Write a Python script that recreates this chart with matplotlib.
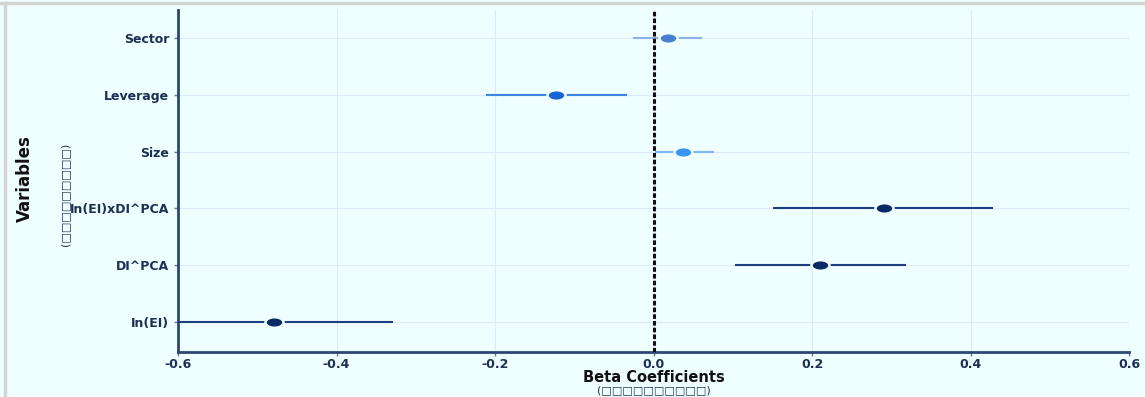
import matplotlib
matplotlib.use("Agg")
import matplotlib.pyplot as plt
import numpy as np
from matplotlib.path import Path
from matplotlib.lines import Line2D

# Degiskenler ve katsayilar
variables = ["ln(EI)", "DI^PCA", "ln(EI)xDI^PCA", "Size", "Leverage", "Sector"]
labels = ["In(EI)", "DI^PCA", "In(EI)xDI^PCA", "Size", "Leverage", "Sector"]
beta = [-0.479, 0.210, 0.291, 0.037, -0.123, 0.018]
ci_low = [-0.600, 0.103, 0.151, 0.002, -0.211, -0.026]
ci_high = [-0.329, 0.318, 0.428, 0.076, -0.034, 0.061]
point_colors = ["#0a2a66", "#0a2a66", "#0a2a66", "#3b93f5", "#1565d8", "#4a7fcf"]
line_colors = ["#1b3f80", "#1b3f80", "#1b3f80", "#7ab6f7", "#3d85e6", "#8fb2e6"]
x_ticks = [-0.6, -0.4, -0.2, 0.0, 0.2, 0.4, 0.6]

bg = "#effefe"
navy = "#1c2f55"

# Yatay olarak genisletilmis elips marker
circ = Path.unit_circle()
ellipse = Path(circ.vertices * np.array([1.7, 1.0]), circ.codes)

fig = plt.figure(figsize=(11.45, 3.97), dpi=100, facecolor=bg)
ax = fig.add_axes([0.1555, 0.1134, 0.8306, 0.8614], facecolor=bg)

y = np.arange(len(variables))
for i in range(len(variables)):
    ax.plot([ci_low[i], ci_high[i]], [y[i], y[i]], color=line_colors[i], lw=1.5,
            solid_capstyle="butt", zorder=3)
    ax.plot(beta[i], y[i], marker=ellipse, ms=13, color=point_colors[i],
            mec=bg, mew=1.8, zorder=4)

ax.axvline(0, color="#111111", lw=2.2, ls=(0, (1.5, 0.7)), zorder=5)

ax.set_xlim(-0.6, 0.6)
ax.set_ylim(-0.53, 5.5)
ax.set_xticks(x_ticks)
ax.set_xticklabels(["-0.6", "-0.4", "-0.2", "0.0", "0.2", "0.4", "0.6"])
ax.set_yticks(y)
ax.set_yticklabels(labels)
ax.grid(True, color="#dbe9fb", lw=0.8, zorder=0)

for s in ["top", "right"]:
    ax.spines[s].set_visible(False)
for s in ["left", "bottom"]:
    ax.spines[s].set_color("#2b4773")
    ax.spines[s].set_linewidth(2)
ax.tick_params(axis="both", colors="#6a7a90", labelcolor=navy, labelsize=9, length=3, width=1)
ax.tick_params(axis="x", pad=1.5)
for t in ax.get_xticklabels() + ax.get_yticklabels():
    t.set_fontweight("bold")

fig.text(0.5715, 0.05, "Beta Coefficients", ha="center", va="center", fontsize=10.5,
         fontweight="bold", color="#111111")
fig.text(0.5715, 0.018, "(\u25a1\u25a1\u25a1\u25a1\u25a1\u25a1\u25a1\u25a1\u25a1\u25a1)",
         ha="center", va="center", fontsize=8, color="#1c2f55")

fig.text(0.022, 0.55, "Variables", rotation=90, ha="center", va="center", fontsize=12,
         fontweight="bold", family=["Liberation Sans Narrow", "DejaVu Sans"], color="#111111")
fig.text(0.057, 0.51, "(\u25a1\u25a1\u25a1\u25a1\u25a1\u25a1\u25a1\u25a1\u25a1)", rotation=90,
         ha="center", va="center", fontsize=8, color="#1c2f55")

# Dis cerceve
fig.add_artist(Line2D([0, 1], [0.992, 0.992], transform=fig.transFigure, color="#d4d4d4", lw=2.5))
fig.add_artist(Line2D([0.004, 0.004], [0, 0.992], transform=fig.transFigure, color="#d4d4d4", lw=2.5))

fig.savefig("out.png", dpi=100, facecolor=bg)
